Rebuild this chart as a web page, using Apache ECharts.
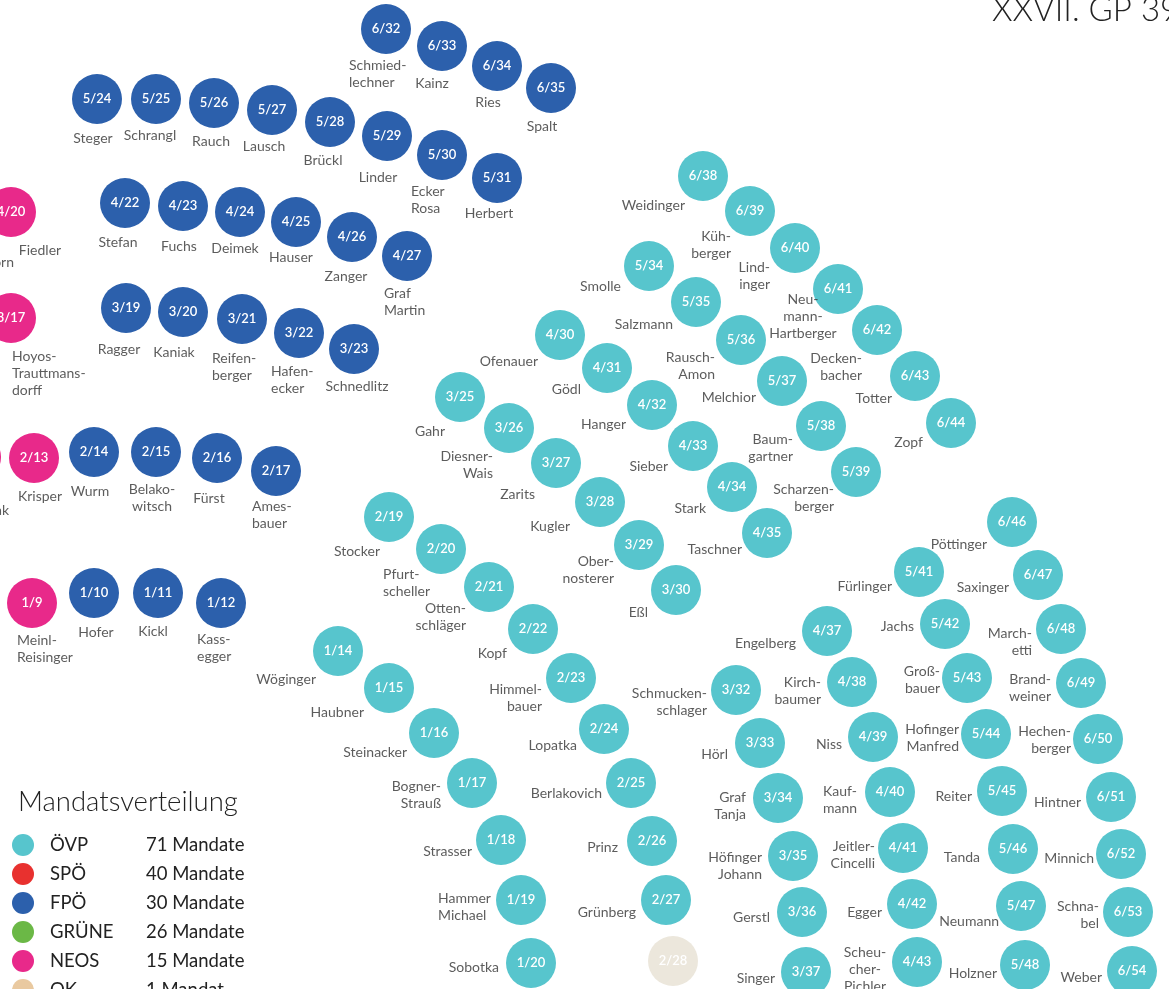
<!DOCTYPE html>
<html>
<head>
<meta charset="utf-8">
<script src="https://cdn.jsdelivr.net/npm/echarts@6/dist/echarts.min.js"></script>
<style>
  html, body { margin: 0; padding: 0; background: #fff; }
  #chart { width: 1169px; height: 989px; }
</style>
</head>
<body>
<div id="chart"></div>
<script>
// Sitzplan-Ausschnitt: Sitz, x, y, Name, Namens-x, Namens-y, Ausrichtung (l/c/r)
const parties  = ['ÖVP', 'SPÖ', 'FPÖ', 'GRÜNE', 'NEOS', 'OK']
const mandates = [71, 40, 30, 26, 15, 1]

const seatsFPO = [
  ['6/32', 386, 29, 'Schmied-\nlechner', 349, 74, 'l'],
  ['6/33', 442, 46, 'Kainz', 432, 83, 'c'],
  ['6/34', 497, 66, 'Ries', 488, 102, 'c'],
  ['6/35', 551, 88, 'Spalt', 542, 126, 'c'],
  ['5/24', 97, 99, 'Steger', 93, 138, 'c'],
  ['5/25', 156, 99, 'Schrangl', 150, 135, 'c'],
  ['5/26', 214, 103, 'Rauch', 211, 141, 'c'],
  ['5/27', 272, 110, 'Lausch', 264, 146, 'c'],
  ['5/28', 330, 122, 'Brückl', 323, 160, 'c'],
  ['5/29', 387, 136, 'Linder', 378, 177, 'c'],
  ['5/30', 442, 155, 'Ecker\nRosa', 411, 200, 'l'],
  ['5/31', 497, 178, 'Herbert', 489, 213, 'c'],
  ['4/22', 125, 203, 'Stefan', 118, 242, 'c'],
  ['4/23', 183, 206, 'Fuchs', 179, 246, 'c'],
  ['4/24', 240, 212, 'Deimek', 235, 248, 'c'],
  ['4/25', 296, 222, 'Hauser', 291, 257, 'c'],
  ['4/26', 352, 237, 'Zanger', 346, 276, 'c'],
  ['4/27', 407, 256, 'Graf\nMartin', 384, 302, 'l'],
  ['3/19', 126, 308, 'Ragger', 119, 349, 'c'],
  ['3/20', 183, 312, 'Kaniak', 174, 352, 'c'],
  ['3/21', 242, 319, 'Reifen-\nberger', 212, 367, 'l'],
  ['3/22', 299, 333, 'Hafen-\necker', 271, 380, 'l'],
  ['3/23', 354, 349, 'Schnedlitz', 357, 386, 'c'],
  ['2/14', 94, 452, 'Wurm', 90, 491, 'c'],
  ['2/15', 156, 452, 'Belako-\nwitsch', 152, 498, 'c'],
  ['2/16', 217, 458, 'Fürst', 209, 498, 'c'],
  ['2/17', 276, 471, 'Ames-\nbauer', 252, 515, 'l'],
  ['1/10', 94, 593, 'Hofer', 96, 632, 'c'],
  ['1/11', 158, 593, 'Kickl', 153, 631, 'c'],
  ['1/12', 221, 603, 'Kass-\negger', 197, 648, 'l']
]

const seatsNEOS = [
  ['4/19', -50, 206, 'Schellhorn', 14, 262, 'r'],
  ['4/20', 11, 212, 'Fiedler', 40, 250, 'c'],
  ['3/17', 11, 318, 'Hoyos-\nTrauttmans-\ndorff', 12, 373, 'l'],
  ['2/12', -24, 457, 'Scherak', 9, 510, 'r'],
  ['2/13', 34, 458, 'Krisper', 40, 496, 'c'],
  ['1/9', 32, 603, 'Meinl-\nReisinger', 17, 649, 'l']
]

const seatsOVP = [
  ['6/38', 703, 176, 'Weidinger', 685, 205, 'r'],
  ['6/39', 750, 211, 'Küh-\nberger', 731, 245, 'r'],
  ['6/40', 795, 248, 'Lind-\ninger', 770, 276, 'r'],
  ['6/41', 838, 289, 'Neu-\nmann-\nHartberger', 803, 316, 'c'],
  ['6/42', 877, 330, 'Decken-\nbacher', 862, 367, 'r'],
  ['6/43', 915, 376, 'Totter', 892, 398, 'r'],
  ['6/44', 951, 423, 'Zopf', 923, 442, 'r'],
  ['5/34', 649, 266, 'Smolle', 621, 286, 'r'],
  ['5/35', 696, 302, 'Salzmann', 673, 324, 'r'],
  ['5/36', 741, 340, 'Rausch-\nAmon', 715, 366, 'r'],
  ['5/37', 782, 381, 'Melchior', 756, 397, 'r'],
  ['5/38', 821, 426, 'Baum-\ngartner', 793, 448, 'r'],
  ['5/39', 856, 472, 'Scharzen-\nberger', 834, 498, 'r'],
  ['4/30', 560, 335, 'Ofenauer', 538, 361, 'r'],
  ['4/31', 607, 368, 'Gödl', 581, 389, 'r'],
  ['4/32', 652, 405, 'Hanger', 626, 424, 'r'],
  ['4/33', 693, 446, 'Sieber', 668, 466, 'r'],
  ['4/34', 732, 487, 'Stark', 706, 508, 'r'],
  ['4/35', 767, 533, 'Taschner', 742, 549, 'r'],
  ['3/25', 460, 397, 'Gahr', 445, 431, 'r'],
  ['3/26', 509, 428, 'Diesner-\nWais', 493, 465, 'r'],
  ['3/27', 556, 463, 'Zarits', 535, 494, 'r'],
  ['3/28', 600, 502, 'Kugler', 570, 526, 'r'],
  ['3/29', 639, 545, 'Ober-\nnosterer', 614, 570, 'r'],
  ['3/30', 676, 590, 'Eßl', 648, 612, 'r'],
  ['2/19', 389, 517, 'Stocker', 380, 551, 'r'],
  ['2/20', 441, 549, 'Pfurt-\nscheller', 383, 583, 'l'],
  ['2/21', 489, 587, 'Otten-\nschläger', 466, 617, 'r'],
  ['2/22', 533, 629, 'Kopf', 507, 653, 'r'],
  ['2/23', 571, 678, 'Himmel-\nbauer', 542, 698, 'r'],
  ['2/24', 604, 729, 'Lopatka', 577, 745, 'r'],
  ['2/25', 631, 783, 'Berlakovich', 602, 793, 'r'],
  ['2/26', 652, 841, 'Prinz', 618, 847, 'r'],
  ['2/27', 666, 900, 'Grünberg', 636, 912, 'r'],
  ['1/14', 338, 651, 'Wöginger', 316, 679, 'r'],
  ['1/15', 389, 688, 'Haubner', 364, 712, 'r'],
  ['1/16', 434, 733, 'Steinacker', 407, 752, 'r'],
  ['1/17', 472, 783, 'Bogner-\nStrauß', 441, 795, 'r'],
  ['1/18', 501, 840, 'Strasser', 472, 851, 'r'],
  ['1/19', 521, 900, 'Hammer\nMichael', 438, 907, 'l'],
  ['1/20', 531, 963, 'Sobotka', 499, 967, 'r'],
  ['3/32', 736, 690, 'Schmucken-\nschlager', 707, 702, 'r'],
  ['3/33', 760, 743, 'Hörl', 728, 754, 'r'],
  ['3/34', 778, 798, 'Graf\nTanja', 746, 806, 'r'],
  ['3/35', 793, 856, 'Höfinger\nJohann', 762, 866, 'r'],
  ['3/36', 802, 912, 'Gerstl', 770, 917, 'r'],
  ['3/37', 806, 972, 'Singer', 775, 978, 'r'],
  ['4/37', 827, 631, 'Engelberg', 796, 643, 'r'],
  ['4/38', 852, 682, 'Kirch-\nbaumer', 821, 691, 'r'],
  ['4/39', 873, 737, 'Niss', 842, 744, 'r'],
  ['4/40', 890, 792, 'Kauf-\nmann', 840, 800, 'c'],
  ['4/41', 903, 848, 'Jeitler-\nCincelli', 875, 855, 'r'],
  ['4/42', 912, 904, 'Egger', 882, 912, 'r'],
  ['4/43', 917, 962, 'Scheu-\ncher-\nPichler', 865, 969, 'c'],
  ['5/41', 919, 572, 'Fürlinger', 892, 586, 'r'],
  ['5/42', 945, 624, 'Jachs', 914, 626, 'r'],
  ['5/43', 967, 678, 'Groß-\nbauer', 940, 680, 'r'],
  ['5/44', 986, 734, 'Hofinger\nManfred', 959, 738, 'r'],
  ['5/45', 1002, 791, 'Reiter', 972, 796, 'r'],
  ['5/46', 1013, 849, 'Tanda', 980, 857, 'r'],
  ['5/47', 1021, 906, 'Neumann', 999, 921, 'r'],
  ['5/48', 1025, 965, 'Holzner', 997, 973, 'r'],
  ['6/46', 1012, 522, 'Pöttinger', 987, 544, 'r'],
  ['6/47', 1038, 575, 'Saxinger', 1009, 587, 'r'],
  ['6/48', 1061, 629, 'March-\netti', 1032, 642, 'r'],
  ['6/49', 1081, 683, 'Brand-\nweiner', 1051, 688, 'r'],
  ['6/50', 1098, 739, 'Hechen-\nberger', 1071, 740, 'r'],
  ['6/51', 1111, 797, 'Hintner', 1081, 802, 'r'],
  ['6/52', 1121, 854, 'Minnich', 1094, 858, 'r'],
  ['6/53', 1128, 912, 'Schna-\nbel', 1099, 915, 'r'],
  ['6/54', 1132, 971, 'Weber', 1102, 977, 'r']
]

const seatsOK = [
  ['2/28', 673, 961, '', 0, 0, 'c']
]

const seatsSPO = []
const seatsGRUENE = []

const chartTitle = 'XXVII. GP 39. Sitzung'
const legendTitle = 'Mandatsverteilung'

// --- Darstellung ---
const FONT = 'Lato, "Noto Sans", sans-serif'
const colors = {
  'ÖVP': '#57c5cd', 'SPÖ': '#e8312f', 'FPÖ': '#2c60ac',
  'GRÜNE': '#6bb846', 'NEOS': '#e8298a', 'OK': '#e9c9a0'
}
const seatsByParty = {
  'ÖVP': seatsOVP, 'SPÖ': seatsSPO, 'FPÖ': seatsFPO,
  'GRÜNE': seatsGRUENE, 'NEOS': seatsNEOS, 'OK': seatsOK
}
const alignMap = { l: 'left', c: 'center', r: 'right' }

const seatSeries = parties.map(p => ({
  name: p,
  type: 'scatter',
  clip: false,
  silent: true,
  symbol: 'circle',
  symbolSize: 50,
  itemStyle: { color: colors[p], opacity: 1 },
  label: {
    show: true, position: 'inside',
    formatter: d => d.data.seat,
    color: '#fff', fontFamily: FONT, fontSize: 13, fontWeight: 600
  },
  data: seatsByParty[p].map(s => {
    const item = { value: [s[1], s[2]], seat: s[0] }
    if (p === 'OK') item.itemStyle = { color: '#ece7dc' }
    return item
  })
}))

const allSeats = [].concat(seatsFPO, seatsNEOS, seatsOVP, seatsSPO, seatsGRUENE).filter(s => s[3])

const nameSeries = {
  name: 'Namen',
  type: 'scatter',
  clip: false,
  silent: true,
  symbolSize: 1,
  itemStyle: { color: 'rgba(0,0,0,0)' },
  label: {
    show: true, position: 'inside',
    formatter: d => d.data.text,
    color: '#333', fontFamily: FONT, fontSize: 14, lineHeight: 17,
    verticalAlign: 'middle'
  },
  data: allSeats.map(s => ({
    value: [s[4], s[5]],
    text: s[3],
    label: { align: alignMap[s[6]] }
  }))
}

const chart = echarts.init(document.getElementById('chart'), null, { renderer: 'canvas' })

chart.setOption({
  animation: false,
  backgroundColor: '#fff',
  title: [
    {
      text: chartTitle, left: 992, top: -6, padding: 0,
      textStyle: { fontFamily: FONT, fontSize: 33, fontWeight: 300, color: '#222' }
    },
    {
      text: legendTitle, left: 18, top: 788, padding: 0,
      textStyle: { fontFamily: FONT, fontSize: 27.5, fontWeight: 300, color: '#222' }
    }
  ],
  legend: {
    data: parties,
    orient: 'vertical',
    left: 12, top: 834, height: 220, padding: 0,
    itemWidth: 22, itemHeight: 22, itemGap: 7,
    icon: 'circle',
    selectedMode: false,
    formatter: name => {
      const n = mandates[parties.indexOf(name)]
      return `{p|${name}}{m|${n} ${n === 1 ? 'Mandat' : 'Mandate'}}`
    },
    textStyle: {
      fontFamily: FONT, fontSize: 18.5, color: '#222',
      rich: {
        p: { fontFamily: FONT, fontSize: 18.5, color: '#222', width: 96, padding: [0, 0, 0, 11] },
        m: { fontFamily: FONT, fontSize: 18.5, color: '#222' }
      }
    }
  },
  grid: { left: 0, right: 0, top: 0, bottom: 0 },
  xAxis: { type: 'value', min: 0, max: 1169, show: false },
  yAxis: { type: 'value', min: 0, max: 989, inverse: true, show: false },
  series: seatSeries.concat([nameSeries])
})
</script>
</body>
</html>
